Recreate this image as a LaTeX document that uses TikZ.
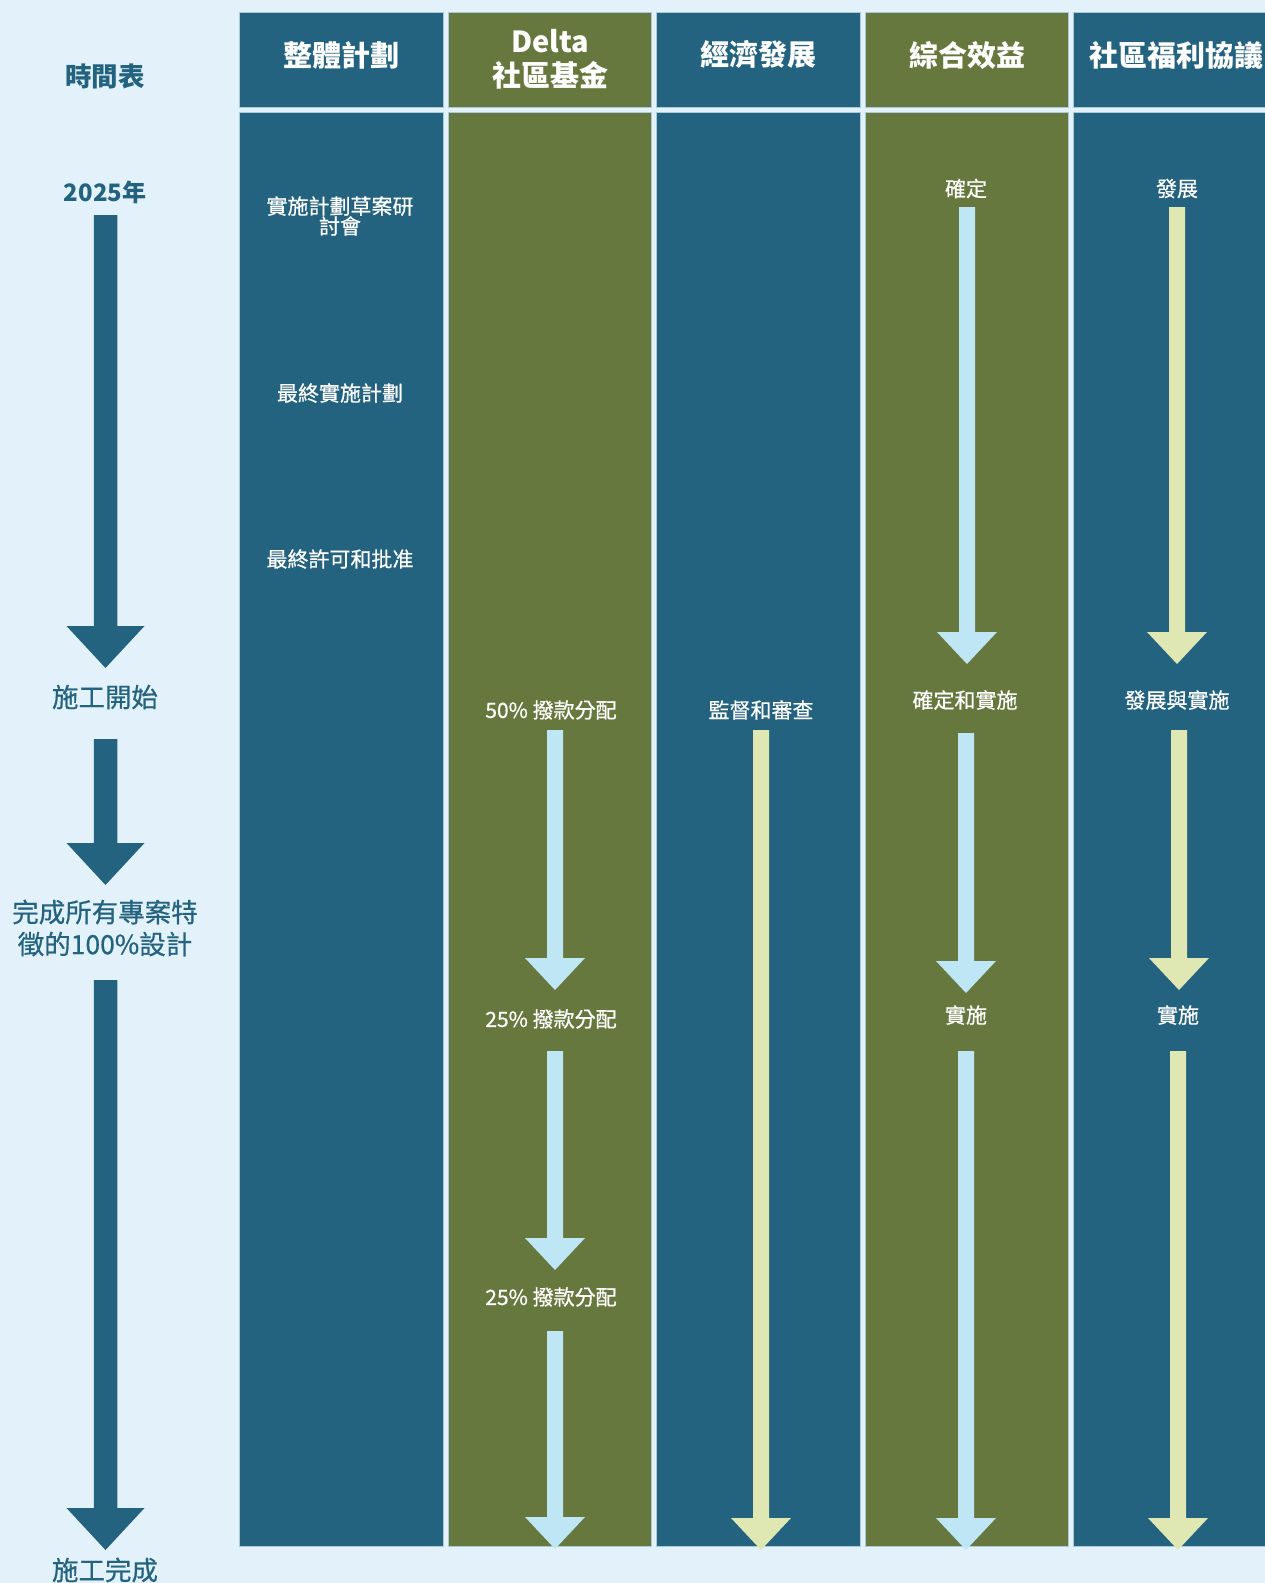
\documentclass[tikz,border=0pt]{standalone}
\usepackage{fontspec}
\setmainfont{Noto Sans CJK TC}
\newfontfamily\medfont[FakeBold=0.6]{Noto Sans CJK TC}
\usetikzlibrary{calc}
\definecolor{bg}{HTML}{E3F2FA}
\definecolor{dblue}{HTML}{23637F}
\definecolor{olive}{HTML}{67783F}
\definecolor{lblue}{HTML}{BEE6F4}
\definecolor{lyel}{HTML}{DFE8B3}
\definecolor{edgec}{HTML}{A9CAD8}
\newcommand\varrow[6]{%
  \fill[#1] let \p1=(#2), \p2=(#3) in
    ({\x1-#4pt},\y1) -- ({\x1+#4pt},\y1) -- ({\x1+#4pt},{\y2+#6pt}) --
    ({\x1+#5pt},{\y2+#6pt}) -- (\x1,\y2) -- ({\x1-#5pt},{\y2+#6pt}) --
    ({\x1-#4pt},{\y2+#6pt}) -- cycle;}
\tikzset{
  hdr/.style={text=white, font=\bfseries\fontsize{29}{34}\selectfont, align=center, inner sep=0pt},
  lbl/.style={text=white, font=\medfont\fontsize{21}{20}\selectfont, align=center, inner sep=0pt},
  side/.style={text=dblue, font=\medfont\fontsize{26.5}{32}\selectfont, align=center, inner sep=0pt},
  sideb/.style={side, font=\bfseries\fontsize{26.5}{32}\selectfont},
  colbox/.style={draw=edgec, line width=0.8pt},
}
\begin{document}
\begin{tikzpicture}[x=1pt,y=-1pt]
\useasboundingbox (0,0) rectangle (1265,1583);
\clip (0,0) rectangle (1265,1583);
\fill[bg] (0,0) rectangle (1265,1583);
% columns
\foreach \i/\c in {0/dblue,1/olive,2/dblue,3/olive,4/dblue}{
  \pgfmathsetmacro\L{239.5+208.5*\i}
  \pgfmathsetmacro\R{\L+203.5}
  \filldraw[colbox, fill=\c] (\L,12.5) rectangle (\R,107.5);
  \filldraw[colbox, fill=\c] (\L,112.5) rectangle (\R,1546);
}
% headers
\node[hdr] (h1) at (341,55) {整體計劃};
\node[hdr] (h2) at (550,59) {Delta\\社區基金};
\node[hdr] (h3) at (758,55) {經濟發展};
\node[hdr] (h4) at (967,55) {綜合效益};
\node[hdr] (h5) at (1176,55) {社區福利協議};
% side labels
\node[sideb] (tt) at (105,76) {時間表};
\node[side, font=\bfseries\fontsize{24}{30}\selectfont] (y25) at (105,192) {2025年};
\node[side] (cs) at (105,697) {施工開始};
\node[side] (fd) at (105,928) {完成所有專案特\\徵的100\%設計};
\node[side] (ce) at (105,1570) {施工完成};
% column 1
\node[lbl] (p1) at (340,216) {實施計劃草案研\\討會};
\node[lbl] (p2) at (340,393) {最終實施計劃};
\node[lbl] (p3) at (340,559) {最終許可和批准};
% column 2
\node[lbl] (d1) at (551,710) {50\% 撥款分配};
\node[lbl] (d2) at (551,1019) {25\% 撥款分配};
\node[lbl] (d3) at (551,1297) {25\% 撥款分配};
% column 3
\node[lbl] (e1) at (761,710) {監督和審查};
% column 4
\node[lbl] (b1) at (966,188.5) {確定};
\node[lbl] (b2) at (965,700) {確定和實施};
\node[lbl] (b3) at (966,1015) {實施};
% column 5
\node[lbl] (c1) at (1177,188.5) {發展};
\node[lbl] (c2) at (1177,700) {發展與實施};
\node[lbl] (c3) at (1178,1015) {實施};
% arrow coordinates
\coordinate (a1s) at (105.5,215);  \coordinate (a1e) at (105.5,668);
\coordinate (a2s) at (105.5,739);  \coordinate (a2e) at (105.5,885);
\coordinate (a3s) at (105.5,980);  \coordinate (a3e) at (105.5,1550);
\coordinate (d1s) at (555,730);    \coordinate (d1e) at (555,990);
\coordinate (d2s) at (555,1051);   \coordinate (d2e) at (555,1270);
\coordinate (d3s) at (555,1331);   \coordinate (d3e) at (555,1549);
\coordinate (e1s) at (761,730);    \coordinate (e1e) at (761,1550);
\coordinate (b1s) at (967,207);    \coordinate (b1e) at (967,664);
\coordinate (b2s) at (966,733);    \coordinate (b2e) at (966,993);
\coordinate (b3s) at (966,1051);   \coordinate (b3e) at (966,1550);
\coordinate (c1s) at (1177,207);   \coordinate (c1e) at (1177,664);
\coordinate (c2s) at (1179,730);   \coordinate (c2e) at (1179,990);
\coordinate (c3s) at (1178,1051);  \coordinate (c3e) at (1178,1550);
% arrows
\varrow{dblue}{a1s}{a1e}{11.75}{39}{42}
\varrow{dblue}{a2s}{a2e}{11.75}{39}{42}
\varrow{dblue}{a3s}{a3e}{11.75}{39}{42}
\varrow{lblue}{d1s}{d1e}{8}{30}{32}
\varrow{lblue}{d2s}{d2e}{8}{30}{32}
\varrow{lblue}{d3s}{d3e}{8}{30}{32}
\varrow{lyel}{e1s}{e1e}{8}{30}{32}
\varrow{lblue}{b1s}{b1e}{8}{30}{32}
\varrow{lblue}{b2s}{b2e}{8}{30}{32}
\varrow{lblue}{b3s}{b3e}{8}{30}{32}
\varrow{lyel}{c1s}{c1e}{8}{30}{32}
\varrow{lyel}{c2s}{c2e}{8}{30}{32}
\varrow{lyel}{c3s}{c3e}{8}{30}{32}
\end{tikzpicture}
\end{document}
